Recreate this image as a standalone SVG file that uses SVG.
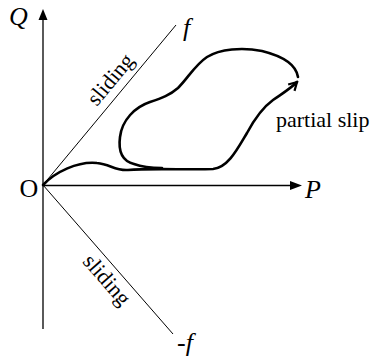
<svg xmlns="http://www.w3.org/2000/svg" width="376" height="359" viewBox="0 0 376 359">
<style>
.ax{stroke:#000;stroke-width:1.3;fill:none}
.thin{stroke:#000;stroke-width:1;fill:none}
.crv{stroke:#000;stroke-width:2.6;fill:none;stroke-linecap:round;stroke-linejoin:round}
text{font-family:'Liberation Serif','Times New Roman','DejaVu Serif',serif;fill:#000}
.it{font-style:italic;font-size:26px}
.up{font-size:26px}
.sm{font-size:22px}
</style>
<defs>
<marker id="vee" markerWidth="12" markerHeight="12" refX="10" refY="6" orient="auto" markerUnits="userSpaceOnUse">
<path d="M2,1.5 L10,6 L2,10.5" fill="none" stroke="#000" stroke-width="2.2" stroke-linejoin="miter"/>
</marker>
</defs>
<rect width="376" height="359" fill="#fff"/>
<g id="connectors">
<g id="axis-Q">
<line class="ax" x1="43" y1="329" x2="43" y2="18"/>
<polygon points="43,9 38.5,20 47.5,20" fill="#000"/>
</g>
<g id="axis-P">
<line class="ax" x1="43" y1="185.5" x2="292" y2="185.5"/>
<polygon points="302,185.5 290,181 290,190" fill="#000"/>
</g>
<line id="line-f" class="thin" x1="43" y1="185" x2="176" y2="25"/>
<line id="line-negf" class="thin" x1="43" y1="185" x2="173" y2="334"/>
<path id="path-main" class="crv" marker-end="url(#vee)" d="M43,185 C55,172 78,161 97,163 C110,164 115,171 128,170 C150,168 190,170 213,169 C228,168 238,148 247,133 C255,118 262,108 273,100 C283,93 290,89 297,82"/>
<path id="path-loop" class="crv" d="M298,77 C296,64 282,56 262,51 C242,47 220,49 207,57 C195,65 188,78 178,88 C170,95 162,98 150,102 C135,107 122,120 120,137 C118,152 122,161 134,164 C142,167 150,168 162,168"/>
</g>
<g id="label-Q"><text class="it" x="9" y="25" font-family="Liberation Serif, serif">Q</text></g>
<g id="label-f"><text class="it" x="183" y="36" font-family="Liberation Serif, serif">f</text></g>
<g id="label-O"><text class="up" x="19.5" y="196.5" font-family="Liberation Serif, serif">O</text></g>
<g id="label-P"><text class="it" x="305" y="198" font-family="Liberation Serif, serif">P</text></g>
<g id="label-negf"><text class="it" x="177" y="351" font-family="Liberation Serif, serif">-f</text></g>
<g id="label-partial"><text class="sm" x="276" y="127" font-family="Liberation Serif, serif">partial slip</text></g>
<g id="label-sliding-top"><text class="sm" text-anchor="middle" transform="translate(116,84) rotate(-50.3)" font-family="Liberation Serif, serif">sliding</text></g>
<g id="label-sliding-bottom"><text class="sm" text-anchor="middle" transform="translate(101.5,284.5) rotate(48.9)" font-family="Liberation Serif, serif">sliding</text></g>
</svg>
